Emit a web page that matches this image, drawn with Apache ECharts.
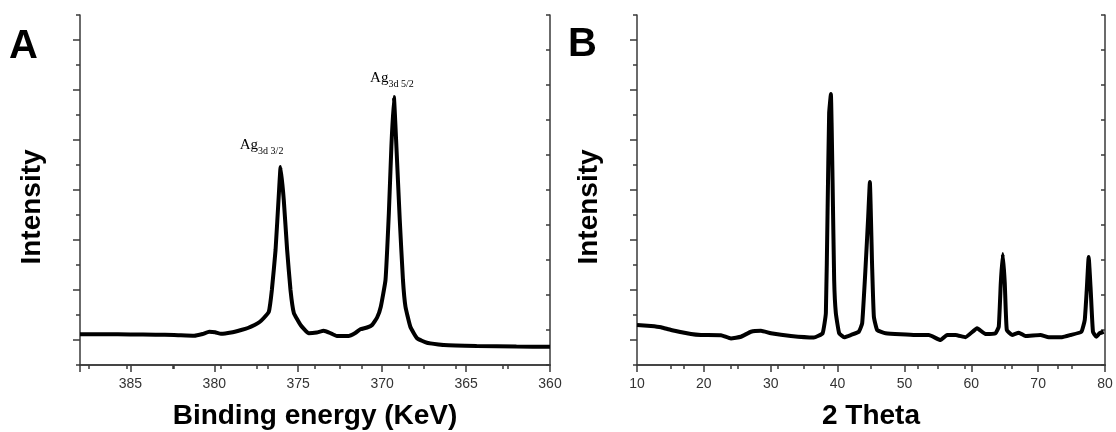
<!DOCTYPE html>
<html><head><meta charset="utf-8">
<script src="https://cdn.jsdelivr.net/npm/echarts@6/dist/echarts.min.js"></script>
<style>html,body{margin:0;padding:0;background:#fff}#c{width:1116px;height:432px}</style>
</head><body><div id="c"></div>
<script>
// Panel A: XPS Ag 3d
const xpsEnergy = [388.0,386.5,385.0,383.5,382.4,381.2,380.7,380.3,379.95,379.6,379.0,378.4,378.0,377.6,377.3,377.05,376.75,376.57,376.35,376.15,376.05,375.86,375.66,375.46,375.26,374.86,374.37,373.9,373.48,373.1,372.7,372.0,371.6,371.3,370.9,370.6,370.3,370.08,369.8,369.6,369.45,369.3,369.15,368.95,368.76,368.61,368.32,367.92,367.33,366.33,364.37,362.0,360.0];
const xpsIntensity = [1.23,1.23,1.22,1.21,1.20,1.17,1.24,1.33,1.31,1.25,1.30,1.40,1.48,1.60,1.72,1.88,2.13,3.0,4.6,6.88,7.92,6.6,4.6,3.0,2.08,1.6,1.27,1.30,1.37,1.28,1.16,1.16,1.28,1.43,1.50,1.6,1.9,2.33,3.4,6.08,8.73,10.72,8.73,5.8,3.4,2.33,1.53,1.07,0.89,0.80,0.76,0.74,0.73];
// Panel B: XRD
const xrdTheta = [10.0,12.09,13.59,15.08,18.07,19.57,22.56,24.05,25.55,27.04,28.54,30.03,33.02,36.46,37.76,38.25,38.5,38.74,39.0,39.25,39.49,39.74,40.24,40.99,41.99,43.18,43.68,44.19,44.58,44.83,45.17,45.43,45.92,47.18,51.66,53.65,55.4,56.38,57.64,59.13,60.87,62.12,63.62,64.11,64.41,64.71,65.01,65.31,66.1,67.1,68.1,70.34,71.58,73.57,74.87,76.47,76.97,77.27,77.56,77.86,78.2,78.71,79.2,79.8];
const xrdIntensity = [1.6,1.56,1.51,1.4,1.24,1.2,1.19,1.06,1.13,1.33,1.37,1.27,1.16,1.1,1.27,2.08,6.08,10.07,10.84,7.4,3.4,2.08,1.27,1.11,1.2,1.33,1.67,3.93,5.93,7.32,3.93,1.93,1.4,1.27,1.2,1.2,1.0,1.2,1.2,1.11,1.47,1.24,1.27,1.53,3.27,4.44,3.27,1.4,1.2,1.29,1.16,1.2,1.11,1.11,1.2,1.33,1.8,3.0,4.32,3.0,1.33,1.13,1.27,1.33];
// Peak annotations (panel A)
const annoEnergy = [369.3, 376.05];
const annoValue = [10.72, 7.92];
const annoSub = ['3d 5/2', '3d 3/2'];
const panelLetters = ['A', 'B'];
const xNames = ['Binding energy (KeV)', '2 Theta'];
const yName = 'Intensity';

const axisColor = '#3a3a3a';
const lineStyleAxis = {color: axisColor, width: 1.5};
const labelStyle = {fontSize: 14, color: '#333', fontFamily: 'Liberation Sans', margin: 12};
const nameStyle = {fontSize: 28, fontWeight: 'bold', color: '#000', fontFamily: 'Liberation Sans'};

function bottomAxis(grid, min, max, interval, inverse, name) {
  return {
    type: 'value', gridIndex: grid, position: 'bottom', min, max, interval, inverse,
    axisLine: {show: true, lineStyle: lineStyleAxis},
    axisTick: {show: true, inside: false, length: 7, lineStyle: lineStyleAxis},
    minorTick: {show: true, splitNumber: 2, length: 4, lineStyle: lineStyleAxis},
    axisLabel: Object.assign({formatter: v => (v % interval === 0 ? String(v) : '')}, labelStyle),
    splitLine: {show: false},
    name, nameLocation: 'middle', nameGap: 37, nameTextStyle: nameStyle
  };
}
function topAxis(grid) {
  return {
    type: 'value', gridIndex: grid, position: 'top', min: 0, max: 10, interval: 1,
    axisLine: {show: true, lineStyle: lineStyleAxis},
    axisTick: {show: true, inside: true, length: 4, lineStyle: lineStyleAxis},
    axisLabel: {show: false}, splitLine: {show: false}
  };
}
function leftAxis(grid) {
  return {
    type: 'value', gridIndex: grid, position: 'left', min: 0, max: 14, interval: 2,
    axisLine: {show: true, lineStyle: lineStyleAxis},
    axisTick: {show: true, inside: false, length: 4, lineStyle: lineStyleAxis},
    minorTick: {show: true, splitNumber: 2, length: 7, lineStyle: lineStyleAxis},
    axisLabel: {show: false}, splitLine: {show: false},
    name: yName, nameLocation: 'middle', nameGap: 34,
    nameTextStyle: Object.assign({padding: [0, 34, 0, 0]}, nameStyle)
  };
}
function rightAxis(grid) {
  return {
    type: 'value', gridIndex: grid, position: 'right', min: 0, max: 10, interval: 1,
    axisLine: {show: true, lineStyle: lineStyleAxis},
    axisTick: {show: true, inside: true, length: 4, lineStyle: lineStyleAxis},
    axisLabel: {show: false}, splitLine: {show: false}
  };
}

const chart = echarts.init(document.getElementById('c'), null, {renderer: 'canvas'});
chart.setOption({
  backgroundColor: '#fff',
  animation: false,
  grid: [
    {left: 80, right: 566, top: 15, bottom: 67, containLabel: false, outerBoundsMode: 'none'},
    {left: 637, right: 11, top: 15, bottom: 67, containLabel: false, outerBoundsMode: 'none'}
  ],
  xAxis: [
    bottomAxis(0, 360, 388, 5, true, xNames[0]),
    topAxis(0),
    bottomAxis(1, 10, 80, 10, false, xNames[1]),
    topAxis(1)
  ],
  yAxis: [leftAxis(0), rightAxis(0), leftAxis(1), rightAxis(1)],
  graphic: [
    {type: 'text', left: 9, top: 27, style: {text: panelLetters[0], fontSize: 40, fontWeight: 'bold', fill: '#000', fontFamily: 'Liberation Sans'}},
    {type: 'text', left: 568, top: 25, style: {text: panelLetters[1], fontSize: 40, fontWeight: 'bold', fill: '#000', fontFamily: 'Liberation Sans'}}
  ],
  series: [
    {
      type: 'line', xAxisIndex: 0, yAxisIndex: 0,
      data: xpsEnergy.map((e, i) => [e, xpsIntensity[i]]),
      showSymbol: false, smooth: 0.12, lineStyle: {color: '#000', width: 4},
      markPoint: {
        symbol: 'circle', symbolSize: 0, silent: true,
        data: annoEnergy.map((e, i) => ({
          name: annoSub[i], coord: [e, annoValue[i]],
          label: {offset: i === 0 ? [-2, 0] : [-19, 0], distance: i === 0 ? 10 : 13}
        })),
        label: {
          show: true, position: 'top', color: '#000',
          formatter: p => '{a|Ag}{b|' + p.name + '}',
          rich: {
            a: {fontFamily: 'Liberation Serif', fontSize: 15, color: '#000', lineHeight: 16, verticalAlign: 'top'},
            b: {fontFamily: 'Liberation Serif', fontSize: 10, color: '#000', lineHeight: 10, padding: [11, 0, 0, 0]}
          }
        }
      }
    },
    {
      type: 'line', xAxisIndex: 2, yAxisIndex: 2,
      data: xrdTheta.map((t, i) => [t, xrdIntensity[i]]),
      showSymbol: false, smooth: 0.12, lineStyle: {color: '#000', width: 4}
    }
  ]
});
</script></body></html>
